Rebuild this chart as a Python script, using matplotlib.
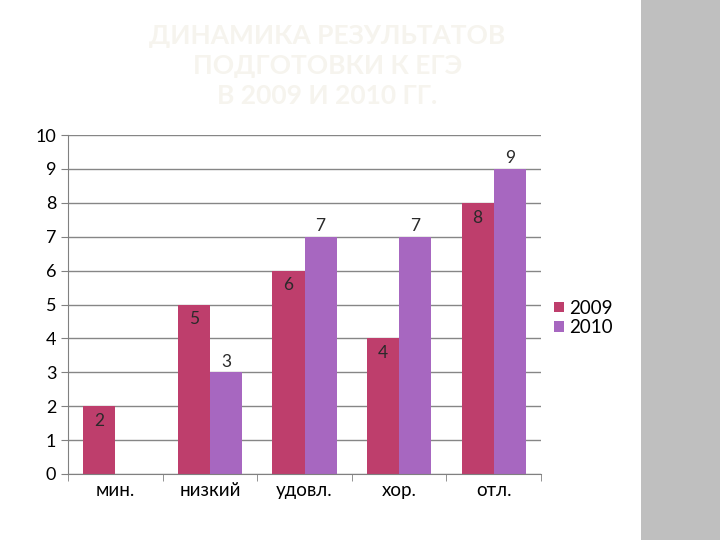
import numpy as np
import matplotlib.pyplot as plt
from matplotlib.patches import Rectangle

categories = ['мин.', 'низкий', 'удовл.', 'хор.', 'отл.']
v2009 = [2, 5, 6, 4, 8]
v2010 = [0, 3, 7, 7, 9]

c2009 = '#be3e6c'
c2010 = '#a767c0'

plt.rcParams['font.family'] = ['Lato', 'DejaVu Sans']

fig = plt.figure(figsize=(7.2, 5.4), dpi=100)
fig.patch.set_facecolor('white')

# серая панель справа
fig.add_artist(Rectangle((641 / 720, 0), 79 / 720, 1, transform=fig.transFigure,
                         facecolor='#bfbfbf', edgecolor='none', zorder=0))

fig.text(0.455, 0.955, 'ДИНАМИКА РЕЗУЛЬТАТОВ\nПОДГОТОВКИ К ЕГЭ\nВ 2009 И 2010 ГГ.',
         ha='center', va='top', fontsize=19, fontweight='bold',
         color='#f6f4ee', linespacing=1.3)

ax = fig.add_axes([68 / 720, 1 - 474 / 540, 473 / 720, 339 / 540])
x = np.arange(len(categories))
w = 0.34
b1 = ax.bar(x - w / 2, v2009, w, color=c2009, label='2009', zorder=2)
b2 = ax.bar(x + w / 2, v2010, w, color=c2010, label='2010', zorder=2)

for r, v in zip(b1, v2009):
    ax.text(r.get_x() + r.get_width() / 2, v - 0.2, str(v), ha='center', va='top',
            fontsize=12.5, color='#2a2a2a', zorder=3)
for r, v in zip(b2, v2010):
    if v > 0:
        ax.text(r.get_x() + r.get_width() / 2, v + 0.08, str(v), ha='center', va='bottom',
                fontsize=12.5, color='#2a2a2a', zorder=3)

ax.set_xlim(-0.5, len(categories) - 0.5)
ax.set_ylim(0, 10)
ax.set_yticks(range(0, 11))
ax.set_xticks(x)
ax.set_xticklabels(categories, fontsize=13.5)
ax.set_xticks(np.arange(-0.5, len(categories)), minor=True)
ax.tick_params(axis='x', which='major', length=0, pad=6)
ax.tick_params(axis='x', which='minor', length=5, color='#808080', direction='out')
ax.tick_params(axis='y', labelsize=13, length=5, color='#808080', direction='out')
ax.grid(axis='y', color='#868686', linewidth=1, zorder=0)
ax.set_axisbelow(True)
for s in ['top', 'right']:
    ax.spines[s].set_visible(False)
for s in ['left', 'bottom']:
    ax.spines[s].set_color('#808080')

ax.legend(loc='center left', bbox_to_anchor=(1.0, 0.46), frameon=False, fontsize=13.5,
          handlelength=0.5, handleheight=0.5, handletextpad=0.3, labelspacing=0.15,
          borderpad=0.2)

fig.savefig('out.png', dpi=100)
